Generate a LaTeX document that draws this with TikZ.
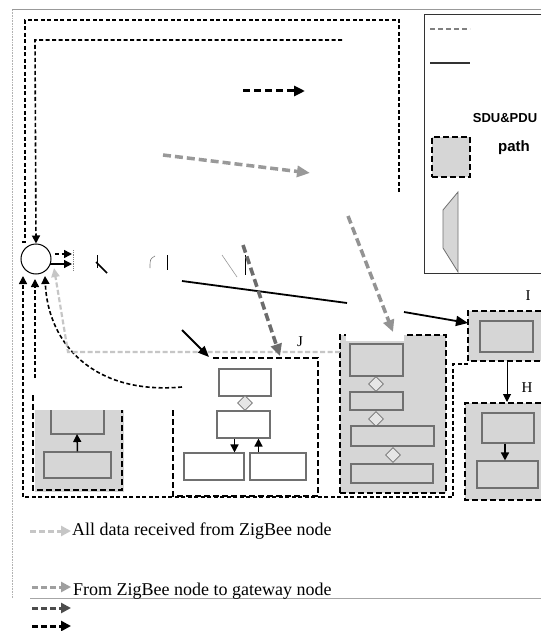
\documentclass[tikz,border=0pt]{standalone}
\usepackage{fontspec}
\setmainfont{Liberation Serif}
\newfontfamily\lsans{Liberation Sans}
\usetikzlibrary{arrows.meta,shapes.geometric}
\definecolor{fillg}{HTML}{D6D6D6}
\definecolor{edgeg}{HTML}{707070}
\begin{document}
\begin{tikzpicture}[x=1pt,y=-1pt,
  thickdash/.style={line width=2.6pt,dash pattern=on 6pt off 3pt},
  thindash/.style={line width=1.6pt,dash pattern=on 4pt off 2.5pt},
  grayarrow/.style={line width=3pt,dash pattern=on 6pt off 3pt,-{Triangle[length=10pt,width=10pt]}},
  wbox/.style={draw=edgeg,line width=1.1pt,fill=white,inner sep=0pt},
  gbox/.style={draw=edgeg,line width=1.1pt,fill=fillg,inner sep=0pt},
  dmd/.style={diamond,draw=edgeg,fill=fillg!60,line width=0.8pt,inner sep=0pt,minimum size=15pt},
  lab/.style={font=\fontsize{15}{17}\selectfont,inner sep=0pt},
  legtext/.style={font=\fontsize{18}{20}\selectfont,anchor=west,inner sep=0pt},
  tip/.style={-{Triangle[length=8pt,width=8pt]}}]
\useasboundingbox (0,0) rectangle (541,631);
\fill[white] (0,0) rectangle (541,631);

% frame
\draw[gray!80,line width=1pt] (12,10) -- (541,10);
\draw[gray!60,line width=0.6pt,densely dotted] (12,10) -- (12,598);
\draw[gray!70,line width=0.8pt] (30,598) -- (541,598);

% legend box top right
\draw[black!80,line width=1pt] (541,15) -- (424,15) -- (424,273) -- (541,273);
\draw[gray,line width=1.5pt,dash pattern=on 5pt off 3pt] (430,29) -- (470,29);
\draw[black!80,line width=1.5pt] (430,63) -- (470,63);
\node[font=\lsans\bfseries\fontsize{13}{15}\selectfont,inner sep=0pt] (sdu) at (505,118) {SDU\&PDU};
\node[font=\lsans\bfseries\fontsize{15}{17}\selectfont,inner sep=0pt] (pth) at (514,148) {path};
\node[thickdash,draw,fill=fillg,minimum width=38pt,minimum height=40pt,inner sep=0pt] (lsq) at (451,157) {};
\draw[edgeg,fill=fillg,line width=0.8pt] (443,210) -- (458,192) -- (458,272) -- (443,248) -- cycle;

% circle
\node[circle,draw,line width=1pt,minimum size=30pt,inner sep=0pt] (circ) at (36,259) {};
\coordinate (cA) at (23,276);
\coordinate (cB) at (35,279);
\coordinate (cC) at (45,276);
\coordinate (cD) at (54,268);

% dashed loops
\coordinate (la) at (399,192);
\draw[thindash] (la) -- (399,20) -- (25,20) -- (25,242) -- (20,242);
\coordinate (lb) at (342,40);
\draw[thindash,tip] (lb) -- (35,40) -- (circ.north);
\coordinate (lc) at (468,364);
\draw[thindash,tip] (lc) -- (453,364) -- (453,497) -- (23,497) -- (cA);
\coordinate (ld) at (35,378);
\draw[thindash,tip] (ld) -- (cB);
\coordinate (le) at (182,387);
\draw[thindash,tip] (le) .. controls (95,395) and (48,345) .. (cC);

% short arrows right of circle
\coordinate (s1) at (55,254);
\coordinate (s2) at (72,254);
\coordinate (s3) at (50,264);
\coordinate (s4) at (72,264);
\draw[thindash,tip] (s1) -- (s2);
\draw[line width=1.2pt,tip] (s3) -- (s4);
\draw[gray,line width=0.8pt,densely dotted] (73,250) -- (73,270);

% remnant marks
\draw[line width=1pt] (97,255) -- (97,268);
\draw[line width=1.6pt] (96,262) -- (107,273);
\draw[gray,line width=0.6pt] (155,256) .. controls (150,259) .. (150,268);
\draw[line width=1pt] (167,255) -- (167,270);
\draw[gray!80,line width=0.6pt] (222,255) -- (237,277);
\draw[line width=1pt] (245,255) -- (245,275);

% top arrows
\coordinate (t1) at (243,91);
\coordinate (t2) at (305,91);
\draw[line width=3pt,dash pattern=on 7pt off 4pt,-{Triangle[length=11pt,width=10pt]}] (t1) -- (t2);
\coordinate (t3) at (163,155);
\coordinate (t4) at (310,173);
\draw[gray!80,line width=3.5pt,dash pattern=on 8pt off 4pt,-{Triangle[length=13pt,width=11pt]}] (t3) -- (t4);

% left box
\fill[fillg] (35,410) rectangle (124,492);
\draw[thickdash] (33,395) -- (33,490) -- (122,490) -- (122,410);
\draw[edgeg,line width=1.1pt] (51,410) -- (51,434) -- (104,434) -- (104,410);
\coordinate (lb1) at (77,434);
\node[gbox,minimum width=67pt,minimum height=26pt] (lb2) at (77.5,465) {};
\draw[line width=1.5pt,tip] (lb2.north) -- (lb1);

% J box
\draw[thickdash] (173,410) -- (173,496) -- (318,496) -- (318,358) -- (213,358);
\node[lab] (jl) at (300,342) {J};
\node[wbox,minimum width=52pt,minimum height=27pt] (b1) at (245,382.5) {};
\node[dmd] (d1) at (245,403) {};
\node[wbox,minimum width=53pt,minimum height=27pt] (b2) at (243.5,424.5) {};
\node[wbox,minimum width=60pt,minimum height=27pt] (b3) at (214,466.5) {};
\node[wbox,minimum width=56pt,minimum height=27pt] (b4) at (278,466.5) {};
\draw[line width=1.5pt,tip] ([xshift=-9pt]b2.south) -- ([xshift=-9pt]b2.south |- b3.north);
\draw[line width=1.5pt,tip] ([xshift=15pt]b2.south |- b4.north) -- ([xshift=15pt]b2.south);

% middle box
\node[thickdash,draw,fill=fillg,minimum width=106pt,minimum height=158pt,inner sep=0pt] (mb) at (393,414) {};
\fill[white] (346,331) rectangle (404,341);
\node[gbox,minimum width=53pt,minimum height=32pt] (m1) at (376.5,360) {};
\node[dmd] (d2) at (376,384) {};
\node[gbox,minimum width=53pt,minimum height=18pt] (m2) at (376.5,401) {};
\node[dmd] (d3) at (376,419) {};
\node[gbox,minimum width=83pt,minimum height=20pt] (m3) at (392.5,436) {};
\node[dmd] (d4) at (393,455) {};
\node[gbox,minimum width=82pt,minimum height=19pt] (m4) at (392,473.5) {};

% I box
\fill[fillg] (468,311) rectangle (541,361);
\draw[thickdash] (541,311) -- (468,311) -- (468,361) -- (541,361);
\node[gbox,minimum width=53pt,minimum height=31pt] (i1) at (506.5,336.5) {};
\node[lab] (il) at (528,296) {I};
\coordinate (iB) at (507,361);

% H box
\fill[fillg] (465,403) rectangle (541,500);
\draw[thickdash] (541,403) -- (465,403) -- (465,500) -- (541,500);
\node[gbox,minimum width=52pt,minimum height=30pt] (h1) at (508,428) {};
\node[gbox,minimum width=61pt,minimum height=27pt] (h2) at (507.5,474.5) {};
\node[lab] (hl) at (527,388) {H};
\coordinate (hT) at (507,402);
\draw[line width=1pt,tip] (iB) -- (hT);
\draw[line width=1.5pt,tip] (h1.south -| 505,0) -- (h2.north -| 505,0);

% gray path from J top to circle
\coordinate (g0) at (340,352);
\coordinate (g1) at (68,352);
\draw[gray!45,line width=2.2pt,dash pattern=on 5pt off 2.5pt,-{Triangle[length=9pt,width=8pt]}] (g0) -- (g1) -- (cD);

% long black line to I
\coordinate (k0) at (182,281);
\coordinate (k1) at (347,303);
\coordinate (k2) at (404,312);
\draw[line width=1.8pt] (k0) -- (k1);
\draw[line width=1.8pt,-{Triangle[length=12pt,width=10pt]}] (k2) -- (468,323);

% black arrow into J
\coordinate (k3) at (182,330);
\draw[line width=1.8pt,-{Triangle[length=11pt,width=9pt]}] (k3) -- (209,357);

% gray thick dashed arrows
\coordinate (q0) at (243,245);
\coordinate (q1) at (280,356);
\draw[gray!85!black,line width=3.5pt,dash pattern=on 8pt off 4pt,-{Triangle[length=12pt,width=11pt]}] (q0) -- (q1);
\coordinate (q2) at (348,216);
\coordinate (q3) at (393,332);
\draw[gray!85,line width=3.5pt,dash pattern=on 8pt off 4pt,-{Triangle[length=12pt,width=11pt]}] (q2) -- (q3);

% bottom legend
\draw[gray!45,grayarrow] (30,531) -- (71,531);
\node[legtext] (lt1) at (72,531) {All data received from ZigBee node};
\draw[gray!75,grayarrow] (32,587) -- (71,587);
\node[legtext] (lt2) at (73,591) {From ZigBee node to gateway node};
\draw[black!70,grayarrow] (32,608) -- (71,608);
\draw[black,grayarrow] (32,626) -- (71,626);
\end{tikzpicture}
\end{document}
